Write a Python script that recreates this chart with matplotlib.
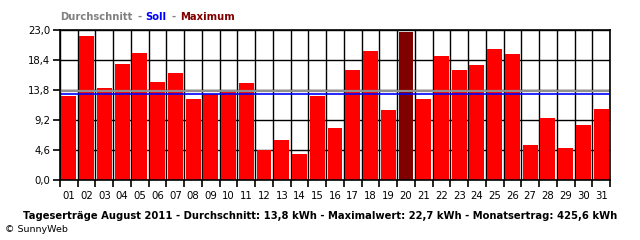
import matplotlib
matplotlib.use("Agg")
import matplotlib.pyplot as plt
import numpy as np

days = [f"{d:02d}" for d in range(1, 32)]
values = [12.9, 22.1, 14.1, 17.8, 19.5, 15.0, 16.4, 12.4, 13.2, 13.6, 14.9,
          4.6, 6.1, 4.0, 12.9, 8.0, 16.9, 19.8, 10.7, 22.7, 12.4, 19.0,
          16.9, 17.6, 20.1, 19.3, 5.4, 9.5, 4.9, 8.4, 10.9]
average = 13.6
target = 13.2
yticks = [0.0, 4.6, 9.2, 13.8, 18.4, 23.0]
ytick_labels = ["0,0", "4,6", "9,2", "13,8", "18,4", "23,0"]

plt.rcParams['font.family'] = ['DejaVu Sans']
W, H = 640, 240
fig = plt.figure(figsize=(W / 100, H / 100), dpi=100)
ax = fig.add_axes([60 / W, 1 - 180 / H, 550 / W, 150 / H])

x = np.arange(len(values))
imax = int(np.argmax(values))
colors = ['#ff0000'] * len(values)
colors[imax] = '#800000'

# grid
for b in np.arange(-0.5, len(values) + 0.5, 1):
    ax.axvline(b, color='black', lw=1.0, zorder=1)
for t in yticks:
    ax.axhline(t, color='black', lw=1.0, zorder=1)

ax.bar(x, values, width=0.84, color=colors, zorder=2)
ax.axhline(average, color='#909090', lw=1.6, zorder=3)
ax.axhline(target, color='#0000ff', lw=1.2, zorder=4)

ax.set_xlim(-0.5, len(values) - 0.5)
ax.set_ylim(0, 23.0)
ax.set_yticks(yticks)
ax.set_yticklabels(ytick_labels)
ax.set_xticks(x)
ax.set_xticklabels(days)
ax.set_xticks(np.arange(-0.5, len(values) + 0.5, 1), minor=True)
ax.tick_params(axis='x', which='major', length=0, pad=8, labelsize=7.3)
ax.tick_params(axis='x', which='minor', length=5, width=1.2, direction='out')
ax.tick_params(axis='y', length=5, width=1.2, labelsize=7.3, pad=2)
for s in ax.spines.values():
    s.set_linewidth(1.2)
    s.set_zorder(5)

# legend-like header
ty = 1 - 17 / H
hs = 7.2
fig.text(60 / W, ty, "Durchschnitt", color='#808080', fontsize=hs,
         fontweight='bold', va='center')
fig.text(137 / W, ty, "-", color='#808080', fontsize=hs,
         fontweight='bold', va='center')
fig.text(145 / W, ty, "Soll", color='#0000ff', fontsize=hs,
         fontweight='bold', va='center')
fig.text(171 / W, ty, "-", color='#808080', fontsize=hs,
         fontweight='bold', va='center')
fig.text(180 / W, ty, "Maximum", color='#800000', fontsize=hs,
         fontweight='bold', va='center')

fig.text(320 / W, 1 - 216 / H,
         "Tageserträge August 2011 - Durchschnitt: 13,8 kWh - Maximalwert: 22,7 kWh - Monatsertrag: 425,6 kWh",
         ha='center', va='center', fontsize=7.2, fontweight='bold', color='black')
fig.text(5 / W, 1 - 230 / H, "© SunnyWeb", ha='left', va='center',
         fontsize=6.8, color='black')

fig.savefig("out.png", dpi=100, facecolor='white')
